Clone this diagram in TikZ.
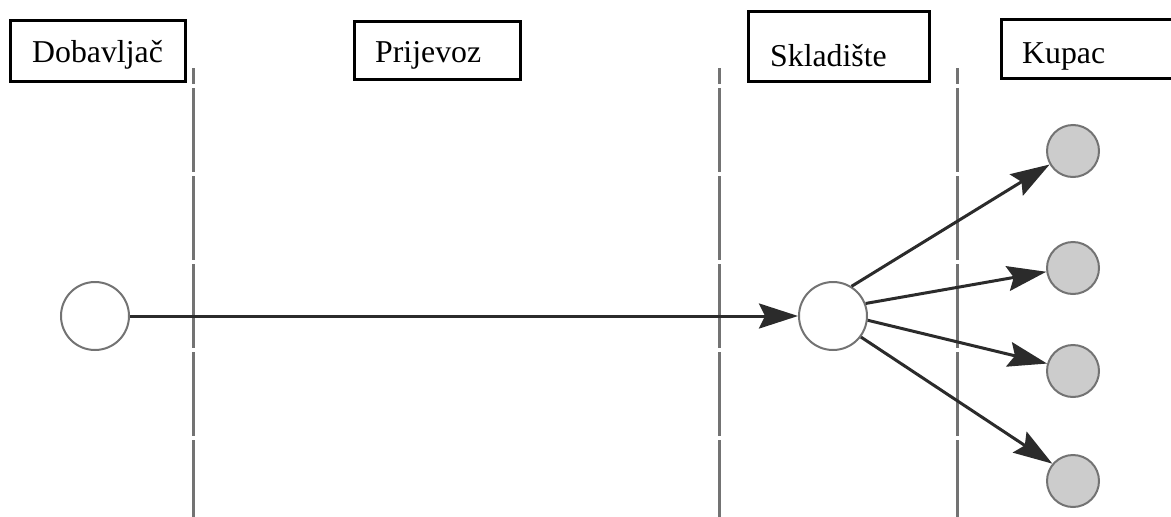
\documentclass[tikz,border=0pt]{standalone}
\usepackage{fontspec}
\setmainfont{Liberation Serif}
\usetikzlibrary{arrows.meta}

\definecolor{divider}{gray}{0.45}
\definecolor{flow}{gray}{0.17}
\definecolor{ring}{gray}{0.45}
\definecolor{custfill}{gray}{0.8}

\tikzset{
  headbox/.style={draw=black, line width=3.2pt, rectangle, inner sep=0pt, anchor=north west},
  headtext/.style={anchor=base west, inner sep=0pt, font=\fontsize{31.8}{36}\selectfont},
  divline/.style={draw=divider, line width=3pt, dash pattern=on 84pt off 4pt, dash phase=68pt},
  bignode/.style={circle, draw=ring, line width=2pt, fill=white, minimum size=68pt, inner sep=0pt},
  custnode/.style={circle, draw=ring, line width=2pt, fill=custfill, minimum size=52pt, inner sep=0pt},
  flowarrow/.style={draw=flow, line width=3pt, -{Stealth[length=39pt, width=25pt, inset=6pt]}}
}

\begin{document}
\begin{tikzpicture}[x=1pt, y=-1pt]
  \useasboundingbox (0,0) rectangle (1171,517);

  % column headings
  \node[headbox, minimum width=175pt, minimum height=61pt] (bDob) at (9,19) {};
  \node[headtext] (tDob) at (32,62) {Dobavljač};
  \node[headbox, minimum width=166pt, minimum height=58pt] (bPri) at (353,20) {};
  \node[headtext] (tPri) at (375,62) {Prijevoz};
  \node[headbox, minimum width=181pt, minimum height=70pt] (bSkl) at (747,10) {};
  \node[headtext] (tSkl) at (770,66) {Skladište};
  \node[headbox, minimum width=180pt, minimum height=59pt] (bKup) at (1000,18) {};
  \node[headtext] (tKup) at (1022,63) {Kupac};

  % stage dividers
  \draw[divline] (193,68) -- (193,517);
  \draw[divline] (719,68) -- (719,517);
  \draw[divline] (957,68) -- (957,517);

  % supplier, warehouse and customers
  \node[bignode] (src) at (95,316) {};
  \node[bignode] (hub) at (833,316) {};
  \node[custnode] (c1) at (1073,151) {};
  \node[custnode] (c2) at (1073,268) {};
  \node[custnode] (c3) at (1073,371) {};
  \node[custnode] (c4) at (1073,481) {};

  % flows
  \draw[flowarrow] (src) -- (hub);
  \draw[flowarrow] (hub.58) -- (c1.210);
  \draw[flowarrow] (hub.21) -- (c2.188);
  \draw[flowarrow] (hub.-7) -- (c3.164);
  \draw[flowarrow] (hub.-37) -- (c4.140);
\end{tikzpicture}
\end{document}
